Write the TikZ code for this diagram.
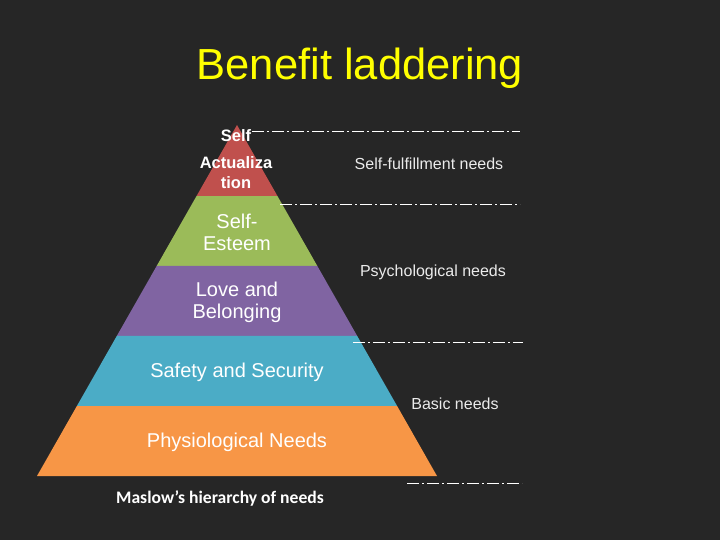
\documentclass[tikz,border=0pt]{standalone}
\usepackage{fontspec}
\setmainfont{Liberation Sans}
\newfontfamily\calib{Carlito}
\usetikzlibrary{calc}
\definecolor{bgc}{HTML}{262626}
\definecolor{lvred}{HTML}{C0504D}
\definecolor{lvgreen}{HTML}{9BBB59}
\definecolor{lvpurple}{HTML}{8064A2}
\definecolor{lvblue}{HTML}{4BACC6}
\definecolor{lvorange}{HTML}{F79646}
\definecolor{ttl}{HTML}{FFFF00}
\tikzset{
  lvltext/.style={text=white, align=center, font=\fontsize{20}{22}\selectfont, inner sep=0pt},
  sidetext/.style={text=white!92!black, font=\fontsize{16}{18}\selectfont, inner sep=0pt},
  sepline/.style={white, line width=0.9pt, dash pattern=on 12pt off 3pt on 2pt off 3pt}
}
\begin{document}
\begin{tikzpicture}[x=1pt,y=-1pt]
\fill[bgc] (0,0) rectangle (720,540);
\useasboundingbox (0,0) rectangle (720,540);
\coordinate (apex) at (237,125);
\coordinate (bl) at (37,476);
\coordinate (br) at (437,476);
\foreach \n/\t in {1/0.2023,2/0.4017,3/0.6011,4/0.8006}{
  \coordinate (l\n) at ($(apex)!\t!(bl)$);
  \coordinate (r\n) at ($(apex)!\t!(br)$);
}
\fill[lvred] (apex) -- (l1) -- (r1) -- cycle;
\fill[lvgreen] (l1) -- (l2) -- (r2) -- (r1) -- cycle;
\fill[lvpurple] (l2) -- (l3) -- (r3) -- (r2) -- cycle;
\fill[lvblue] (l3) -- (l4) -- (r4) -- (r3) -- cycle;
\fill[lvorange] (l4) -- (bl) -- (br) -- (r4) -- cycle;

\node[text=ttl, font=\fontsize{43.5}{50}\selectfont, inner sep=0pt] (title) at (360,68) {Benefit laddering};

\node[lvltext, font=\bfseries\fontsize{16.5}{20}\selectfont] (sa1) at (236,136) {Self};
\node[lvltext, font=\bfseries\fontsize{16.5}{20}\selectfont] (sa2) at (236,173) {Actualiza\\tion};
\node[lvltext] (se) at (237,232) {Self-\\Esteem};
\node[lvltext] (lb) at (237,302) {Love and\\Belonging};
\node[lvltext] (ss) at (237,372) {Safety and Security};
\node[lvltext] (ph) at (237,442) {Physiological Needs};

\node[sidetext] (sf) at (429,164) {Self-fulfillment needs};
\node[sidetext] (ps) at (433,272) {Psychological needs};
\node[sidetext] (bn) at (455,404) {Basic needs};

\node[text=white, font=\calib\bfseries\fontsize{17.6}{20}\selectfont, inner sep=0pt] (cap) at (220,498) {Maslow’s hierarchy of needs};

\coordinate (d1a) at (252,131); \coordinate (d1b) at (520,131);
\coordinate (d2a) at (280,204); \coordinate (d2b) at (520,204);
\coordinate (d3a) at (353,342); \coordinate (d3b) at (523,342);
\coordinate (d4a) at (407,483); \coordinate (d4b) at (522,483);
\draw[sepline] (d1a) -- (d1b);
\draw[sepline] (d2a) -- (d2b);
\draw[sepline] (d3a) -- (d3b);
\draw[sepline] (d4a) -- (d4b);
\end{tikzpicture}
\end{document}
